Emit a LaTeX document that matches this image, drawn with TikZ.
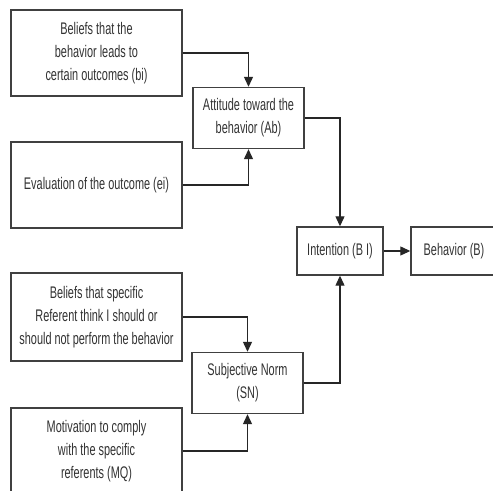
\documentclass[tikz,border=0pt]{standalone}
\usepackage{fontspec}
\setmainfont{Liberation Sans}[FakeStretch=0.65]
\usepackage{tikz}
\usetikzlibrary{arrows.meta, positioning}

\begin{document}
\begin{tikzpicture}[
      x=0.5pt, y=-0.5pt,
      factor/.style={draw=black!75, line width=0.7pt, fill=white, text=black!80, align=center, minimum width=171*0.5pt, minimum height=86*0.5pt, inner sep=1pt, font=\fontsize{8.4}{11.4}\selectfont},
      construct/.style={factor, minimum width=111*0.5pt, minimum height=61*0.5pt},
      outcome/.style={factor, minimum width=86*0.5pt, minimum height=48*0.5pt},
      link/.style={-{Triangle[length=5pt, width=4.5pt]}, black!85, line width=0.6pt}
    ]
    \path[use as bounding box, clip] (0,0) rectangle (493,491);
    \fill[white] (0,0) rectangle (493,491);

    \node[factor] (bi) at (96.5,53) {Beliefs that the\\behavior leads to\\certain outcomes (bi)};
    \node[factor] (ei) at (96.5,185) {Evaluation of the outcome (ei)};
    \node[factor, minimum height=88*0.5pt] (ref) at (96.5,317) {Beliefs that specific\\Referent think I should or\\should not perform the behavior};
    \node[factor] (mq) at (96.5,451) {Motivation to comply\\with the specific\\referents (MQ)};

    \node[construct] (ab) at (248.5,118) {Attitude toward the\\behavior (Ab)};
    \node[construct] (sn) at (247.5,383) {Subjective Norm\\(SN)};

    \node[outcome] (bint) at (340,251) {Intention (B I)};
    \node[outcome] (beh) at (454,251) {Behavior (B)};

    \draw[link] (bi.east) -| (ab.north);
    \draw[link] (ei.east) -| (ab.south);
    \draw[link] (ref.east) -| (sn.north);
    \draw[link] (mq.east) -| (sn.south);
    \draw[link] (ab.east) -| (bint.north);
    \draw[link] (sn.east) -| (bint.south);
    \draw[link] (bint) -- (beh);
  \end{tikzpicture}
\end{document}
